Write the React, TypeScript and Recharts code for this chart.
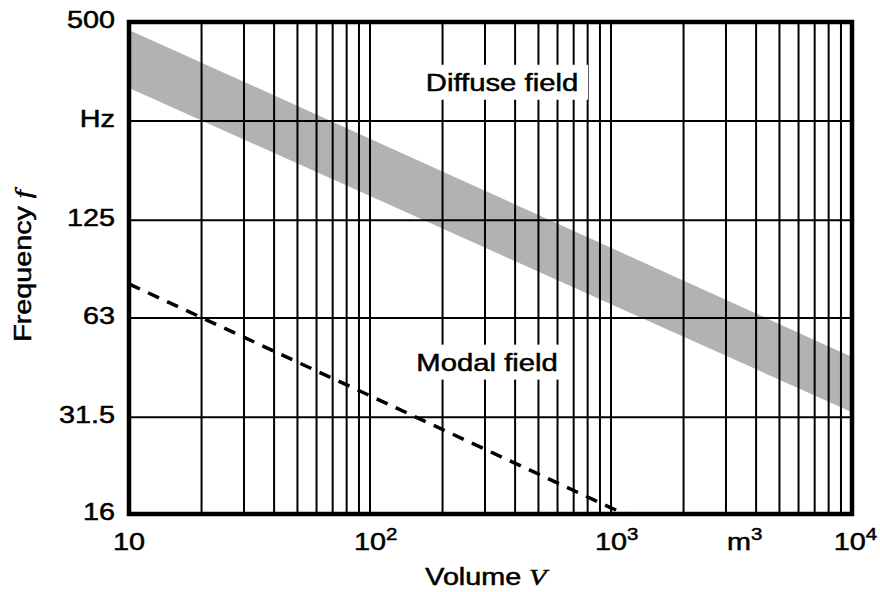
import React from "react";
import {
  ComposedChart,
  Area,
  Line,
  XAxis,
  YAxis,
  CartesianGrid,
  ReferenceArea,
  ReferenceDot,
} from "recharts";

// volumes in m^3, frequencies in Hz
const volumes = [10, 100, 1000, 10000];
const diffuseUpper = [473, 221, 103, 48];
const diffuseLower = [315, 148, 69.4, 32.6];

const modalVolumes = [10, 100, 1000, 1200];
const modalFreq = [80, 36.6, 16.7, 15.8];

const xTicks = [
  10, 20, 30, 40, 50, 60, 70, 80, 90,
  100, 200, 300, 400, 500, 600, 700, 800, 900,
  1000, 2000, 3000, 4000, 5000, 6000, 7000, 8000, 9000,
  10000,
];
const xLabelValues = [10, 100, 1000, 10000];
const xLabelBase = ["10", "10", "10", "10"];
const xLabelExp = ["", "2", "3", "4"];
const xUnitAt = 3000;

const yTicks = [16, 31.5, 63, 125, 250, 500];
const yTickLabels = ["16", "31.5", "63", "125", "Hz", "500"];

const annotations = [
  { v: 353, f: 328, text: "Diffuse field", w: 172 },
  { v: 306, f: 46.3, text: "Modal field", w: 156 },
];

const bandData = volumes.map((v, i) => ({ v, band: [diffuseLower[i], diffuseUpper[i]] }));
const modalData = modalVolumes.map((v, i) => ({ v, f: modalFreq[i] }));

const SANS = "'Liberation Sans', Arial, Helvetica, sans-serif";
const SERIF = "'Liberation Serif', 'Times New Roman', serif";

// the original type is a bit wider and heavier than Arial
const SText = ({ x, y, size = 24, sx = 1.2, anchor = "start", rotate = 0, children }: any) => (
  <g transform={`translate(${x},${y}) rotate(${rotate}) scale(${sx},1)`}>
    <text
      x={0}
      y={0}
      textAnchor={anchor}
      fontSize={size}
      fontFamily={SANS}
      fill="#000"
      stroke="#000"
      strokeWidth={0.5}
    >
      {children}
    </text>
  </g>
);

const XTick = (props: any) => {
  const { x, payload } = props;
  const v = payload.value;
  if (v === xUnitAt) {
    return (
      <SText x={x + 1} y={550}>
        m<tspan dy={-10} fontSize={17}>3</tspan>
      </SText>
    );
  }
  const i = xLabelValues.indexOf(v);
  if (i < 0) return null;
  const exp = xLabelExp[i];
  if (i === xLabelValues.length - 1) {
    return (
      <SText x={877} y={550} anchor="end">
        {xLabelBase[i]}
        <tspan dy={-10} fontSize={17}>{exp}</tspan>
      </SText>
    );
  }
  return (
    <SText x={x - 16} y={550}>
      {xLabelBase[i]}
      {exp ? <tspan dy={-10} fontSize={17}>{exp}</tspan> : null}
    </SText>
  );
};

const YTick = (props: any) => {
  const { y, payload } = props;
  const i = yTicks.indexOf(payload.value);
  if (i < 0) return null;
  return (
    <SText x={115} y={y + 6} anchor="end">
      {yTickLabels[i]}
    </SText>
  );
};

const NoteShape = ({ cx, cy, text, w }: any) => (
  <g>
    <rect x={cx - w / 2} y={cy - 17.5} width={w} height={35} fill="#fff" />
    <SText x={cx} y={cy + 8.5} anchor="middle" sx={1.22}>
      {text}
    </SText>
  </g>
);

export default function App() {
  return (
    <div style={{ position: "absolute", left: 0, top: 0 }}>
      <ComposedChart width={880} height={592} margin={{ top: 22, right: 28, left: 0, bottom: 0 }}>
        <CartesianGrid stroke="#000" strokeWidth={2} />
        <XAxis
          dataKey="v"
          type="number"
          scale="log"
          domain={[10, 10000]}
          ticks={xTicks}
          interval={0}
          allowDataOverflow
          axisLine={false}
          tickLine={false}
          height={78}
          tick={<XTick />}
          label={{
            content: () => (
              <SText x={486} y={585} anchor="middle" size={23} sx={1.25}>
                Volume <tspan fontFamily={SERIF} fontStyle="italic">V</tspan>
              </SText>
            ),
          }}
        />
        <YAxis
          type="number"
          scale="log"
          domain={[16, 500]}
          ticks={yTicks}
          interval={0}
          allowDataOverflow
          axisLine={false}
          tickLine={false}
          width={129}
          tick={<YTick />}
          label={{
            content: () => (
              <SText x={31} y={266} anchor="middle" size={23} sx={1.25} rotate={-90}>
                Frequency <tspan fontFamily={SERIF} fontStyle="italic">f</tspan>
              </SText>
            ),
          }}
        />
        <Area
          data={bandData}
          dataKey="band"
          type="linear"
          fill="#000"
          fillOpacity={0.3}
          stroke="none"
          isAnimationActive={false}
        />
        <Line
          data={modalData}
          dataKey="f"
          type="linear"
          stroke="#000"
          strokeWidth={3.5}
          strokeDasharray="12 9"
          dot={false}
          isAnimationActive={false}
        />
        {annotations.map((a) => (
          <ReferenceDot
            key={a.text}
            x={a.v}
            y={a.f}
            r={0}
            shape={(p: any) => <NoteShape cx={p.cx} cy={p.cy} text={a.text} w={a.w} />}
          />
        ))}
        <ReferenceArea x1={10} x2={10000} y1={16} y2={500} fill="none" stroke="#000" strokeWidth={4.5} />
      </ComposedChart>
    </div>
  );
}
